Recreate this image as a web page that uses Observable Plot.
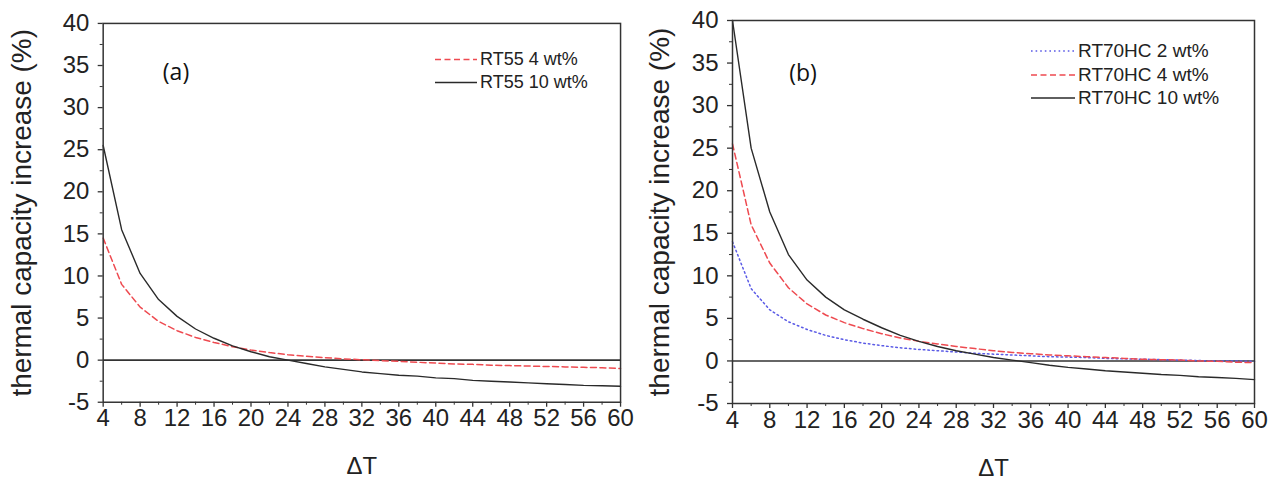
<!DOCTYPE html>
<html><head><meta charset="utf-8">
<script src="https://cdn.jsdelivr.net/npm/d3@7"></script>
<script src="https://cdn.jsdelivr.net/npm/@observablehq/plot@0.6"></script>
<style>
body{margin:0;background:#fff;}
#wrap{position:relative;width:1280px;height:484px;overflow:hidden;font-family:"Liberation Sans",Arial,sans-serif;}
.panel{position:absolute;top:0;overflow:hidden;height:484px;}
.tag{position:absolute;font-family:"Open Sans",sans-serif;font-size:23px;color:#111;transform:translate(-50%,-50%);}
.leg{position:absolute;color:#222;font-family:"Liberation Sans",Arial,sans-serif;}
.leg .row{position:absolute;display:flex;align-items:center;white-space:nowrap;transform:translateY(-50%);}
.leg svg{margin-right:3px;}
</style></head><body><div id="wrap"></div>
<script>
// ΔT values (x)
const dT = [4,6,8,10,12,14,16,18,20,22,24,26,28,30,32,34,36,38,40,42,44,46,48,50,52,54,56,58,60];
// y tick labels
const yTicks = [-5,0,5,10,15,20,25,30,35,40];
const xTicks = [4,8,12,16,20,24,28,32,36,40,44,48,52,56,60];

// panel (a)
const seriesA = ["RT55 4 wt%", "RT55 10 wt%"];
const rt55_4  = [14.5,9.0,6.3,4.6,3.5,2.7,2.1,1.6,1.2,0.9,0.65,0.45,0.3,0.15,0.05,-0.05,-0.15,-0.25,-0.35,-0.45,-0.5,-0.6,-0.65,-0.7,-0.75,-0.8,-0.85,-0.9,-1.0];
const rt55_10 = [25.5,15.5,10.3,7.2,5.2,3.7,2.6,1.7,1.0,0.4,0.0,-0.4,-0.8,-1.1,-1.4,-1.6,-1.8,-1.9,-2.1,-2.2,-2.4,-2.5,-2.6,-2.7,-2.8,-2.9,-3.0,-3.05,-3.1];

// panel (b)
const seriesB = ["RT70HC 2 wt%", "RT70HC 4 wt%", "RT70HC 10 wt%"];
const rt70_2  = [14,8.5,6.0,4.6,3.7,3.0,2.5,2.1,1.8,1.55,1.35,1.2,1.05,0.9,0.8,0.7,0.6,0.5,0.45,0.4,0.3,0.25,0.2,0.15,0.1,0.05,0.0,0.0,-0.05];
const rt70_4  = [25.5,16,11.5,8.6,6.7,5.4,4.5,3.8,3.2,2.7,2.3,2.0,1.7,1.45,1.2,1.0,0.85,0.7,0.6,0.5,0.4,0.3,0.2,0.15,0.1,0.0,-0.05,-0.15,-0.2];
const rt70_10 = [40,25,17.5,12.5,9.5,7.5,6.0,4.9,3.9,3.0,2.3,1.7,1.2,0.8,0.4,0.1,-0.2,-0.5,-0.75,-0.95,-1.15,-1.3,-1.45,-1.6,-1.7,-1.85,-1.95,-2.05,-2.2];

const styles = {
  "RT55 4 wt%":   {stroke:"#ee4a50", dash:"6,3.5", w:1.5},
  "RT55 10 wt%":  {stroke:"#2a2a2a", dash:null, w:1.4},
  "RT70HC 2 wt%": {stroke:"#5b5be6", dash:"1.6,3", w:1.5},
  "RT70HC 4 wt%": {stroke:"#ee4a50", dash:"6,3.5", w:1.5},
  "RT70HC 10 wt%":{stroke:"#2a2a2a", dash:null, w:1.4}
};

function table(names, arrays){
  const rows = [];
  names.forEach((n,i)=> dT.forEach((x,j)=> rows.push({series:n, dT:x, v:arrays[i][j]})));
  return rows;
}

function panel(names, arrays, m){
  const data = table(names, arrays);
  const minorY = d3.range(-2.5, 40, 5);
  const minorX = d3.range(6, 60, 4);
  const fmt = d => String(d);
  const marks = [
    Plot.ruleY([0], {stroke:"#333", strokeWidth:1.6}),
    ...names.map(n => Plot.line(data.filter(d=>d.series===n), {x:"dT", y:"v", stroke:styles[n].stroke, strokeWidth:styles[n].w, strokeDasharray:styles[n].dash})),
    Plot.axisY({ticks:yTicks, tickSize:5, tickPadding:9, fontSize:24, tickFormat:fmt, label:null, stroke:"#333", strokeWidth:1.3}),
    Plot.axisY({ticks:minorY, tickSize:3, tickFormat:()=>"", label:null, stroke:"#333"}),
    Plot.axisY({ticks:[], tickSize:0, label:"thermal capacity increase (%)", labelAnchor:"center", labelArrow:"none", labelOffset:m.yLabelOffset, fontSize:28}),
    Plot.axisX({ticks:xTicks, tickSize:5, tickPadding:2, fontSize:24, tickFormat:fmt, label:null, stroke:"#333", strokeWidth:1.3}),
    Plot.axisX({ticks:minorX, tickSize:3, tickFormat:()=>"", label:null, stroke:"#333"}),
    Plot.axisX({ticks:[], tickSize:0, label:"ΔT", labelAnchor:"center", labelOffset:72, fontSize:24, labelArrow:"none"}),
    Plot.frame({stroke:"#333", strokeWidth:1.5})
  ];
  return Plot.plot({
    width:640, height:484,
    marginLeft:m.left, marginRight:m.right, marginTop:m.top, marginBottom:81,
    x:{domain:[4,60]},
    y:{domain:[-5,40]},
    style:{fontFamily:"'Liberation Sans', Arial, sans-serif", color:"#222", background:"transparent"},
    marks
  });
}

const wrap = document.getElementById("wrap");
function addPanel(node, left, width){
  const d = document.createElement("div");
  d.className = "panel"; d.style.left = left+"px"; d.style.width = width+"px";
  d.appendChild(node); wrap.appendChild(d);
}
addPanel(panel(seriesA, [rt55_4, rt55_10], {left:103, right:18, top:23, yLabelOffset:92}), 0, 638);
addPanel(panel(seriesB, [rt70_2, rt70_4, rt70_10], {left:92, right:26, top:20, yLabelOffset:83}), 640, 640);

function tag(txt, x, y){
  const t = document.createElement("div"); t.className="tag"; t.textContent=txt;
  t.style.left=x+"px"; t.style.top=y+"px"; wrap.appendChild(t);
}
tag("(a)", 176, 71);
tag("(b)", 803, 72);

function legend(names, x, ys, fs, sw){
  const L = document.createElement("div"); L.className="leg"; L.style.left=x+"px"; L.style.top="0px";
  L.style.fontSize = fs+"px";
  names.forEach((n,i)=>{
    const s = styles[n];
    const r = document.createElement("div"); r.className="row"; r.style.top=ys[i]+"px";
    r.innerHTML = `<svg width="${sw}" height="6"><line x1="0" y1="3" x2="${sw}" y2="3" stroke="${s.stroke}" stroke-width="${s.w}" ${s.dash?`stroke-dasharray="${s.dash}"`:""}/></svg><span>${n}</span>`;
    L.appendChild(r);
  });
  wrap.appendChild(L);
}
legend(seriesA, 435, [59, 82], 18, 42);
legend(seriesB, 1031, [51, 75, 98], 19, 44);
</script></body></html>
